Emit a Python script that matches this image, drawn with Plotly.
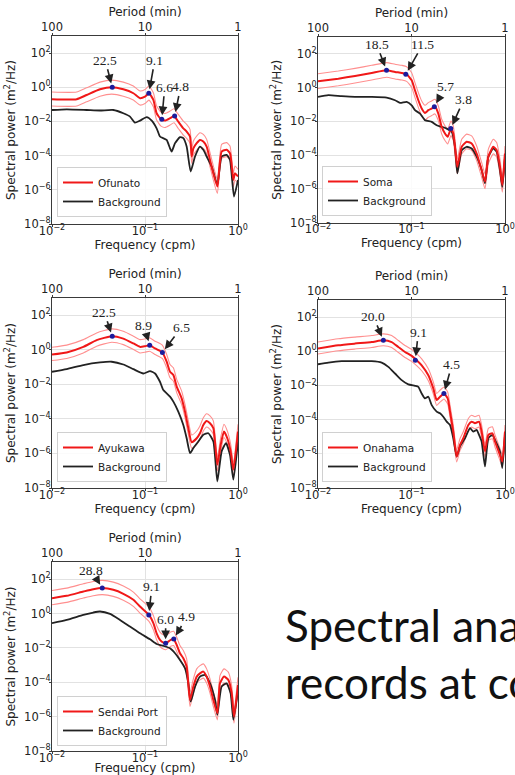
import numpy as np
import plotly.graph_objects as go

# ---------------- data (log10 of frequency in cpm, log10 of power in m^2/Hz) ----------------
stations = ["Ofunato", "Soma", "Ayukawa", "Onahama", "Sendai Port"]

ofunato_log10_freq = [-2.000, -1.735, -1.627, -1.484, -1.358, -1.233, -1.125, -1.054, -1.000, -0.957,
                      -0.910, -0.875, -0.828, -0.785, -0.731, -0.688, -0.642, -0.588, -0.552, -0.516,
                      -0.498, -0.480, -0.444, -0.409, -0.373, -0.337, -0.301, -0.265, -0.222, -0.176,
                      -0.122, -0.086, -0.050, -0.032, 0.000]
ofunato_log10_power = [-0.70, -0.70, -0.45, -0.12, 0.00, -0.12, -0.35, -0.64, -0.55, -0.35,
                       -0.74, -1.52, -1.87, -1.95, -1.81, -1.68, -2.01, -2.40, -2.59, -2.88,
                       -4.05, -3.57, -3.27, -3.08, -3.18, -3.47, -4.25, -5.03, -5.81, -3.76,
                       -3.66, -3.86, -5.42, -5.03, -5.22]
ofunato_bg_log10_freq = [-2.000, -1.842, -1.627, -1.484, -1.341, -1.233, -1.161, -1.108, -1.054, -0.982,
                         -0.928, -0.875, -0.839, -0.803, -0.767, -0.731, -0.713, -0.677, -0.624, -0.588,
                         -0.552, -0.509, -0.462, -0.409, -0.373, -0.337, -0.283, -0.222, -0.176, -0.122,
                         -0.086, -0.043, 0.000]
ofunato_bg_log10_power = [-1.33, -1.29, -1.33, -1.36, -1.33, -1.52, -1.72, -2.07, -1.95, -1.75,
                          -1.95, -2.40, -2.88, -2.98, -3.08, -3.57, -3.76, -3.27, -2.92, -2.98,
                          -3.47, -4.93, -4.05, -3.47, -3.66, -4.05, -4.64, -5.71, -4.05, -3.96,
                          -4.25, -6.39, -5.42]
ofunato_peak_periods = [22.5, 9.1, 6.6, 4.8]
ofunato_peak_log10_power = [0.00, -0.35, -1.87, -1.68]

soma_log10_freq = [-2.000, -1.783, -1.604, -1.426, -1.266, -1.176, -1.105, -1.052, -0.998, -0.963,
                   -0.927, -0.891, -0.856, -0.820, -0.784, -0.749, -0.713, -0.677, -0.642, -0.613,
                   -0.578, -0.553, -0.535, -0.510, -0.463, -0.410, -0.357, -0.303, -0.250, -0.214,
                   -0.178, -0.125, -0.089, -0.054, -0.029, 0.000]
soma_log10_power = [0.37, 0.53, 0.69, 0.87, 1.03, 0.93, 0.87, 0.79, 0.43, -0.16,
                    -0.75, -1.24, -1.50, -1.34, -1.24, -1.14, -1.54, -2.33, -2.72, -2.92,
                    -2.43, -2.72, -3.51, -4.69, -3.51, -3.21, -3.31, -3.91, -4.89, -5.58,
                    -4.10, -3.51, -3.71, -4.69, -5.78, -3.91]
soma_bg_log10_freq = [-2.000, -1.889, -1.747, -1.604, -1.426, -1.266, -1.176, -1.123, -1.052, -0.998,
                      -0.963, -0.909, -0.856, -0.784, -0.731, -0.677, -0.624, -0.570, -0.535, -0.510,
                      -0.463, -0.410, -0.357, -0.303, -0.250, -0.214, -0.178, -0.125, -0.089, -0.054,
                      -0.029, 0.000]
soma_bg_log10_power = [-0.55, -0.45, -0.51, -0.55, -0.55, -0.59, -0.75, -0.91, -0.85, -1.05,
                       -1.34, -1.54, -1.93, -2.03, -2.23, -2.33, -2.43, -2.62, -3.51, -5.09,
                       -3.71, -3.51, -3.61, -4.10, -4.89, -5.68, -4.10, -3.61, -3.81, -4.89,
                       -5.88, -4.10]
soma_peak_periods = [18.5, 11.5, 5.7, 3.8]
soma_peak_log10_power = [1.03, 0.79, -1.14, -2.43]

ayukawa_log10_freq = [-2.000, -1.842, -1.663, -1.520, -1.358, -1.233, -1.125, -1.054, -1.000, -0.950,
                      -0.892, -0.814, -0.767, -0.731, -0.695, -0.659, -0.606, -0.570, -0.534, -0.498,
                      -0.444, -0.409, -0.373, -0.337, -0.301, -0.265, -0.222, -0.186, -0.151, -0.115,
                      -0.079, -0.050, 0.000]
ayukawa_log10_power = [-0.27, -0.15, 0.17, 0.56, 0.79, 0.65, 0.37, 0.17, 0.21, 0.27,
                       0.08, -0.15, -0.69, -1.27, -1.46, -2.13, -2.81, -3.58, -4.54, -5.35,
                       -5.12, -4.83, -4.35, -4.12, -4.25, -4.54, -6.65, -5.50, -4.73, -5.12,
                       -5.88, -6.94, -4.73]
ayukawa_bg_log10_freq = [-2.000, -1.842, -1.663, -1.484, -1.358, -1.233, -1.125, -1.018, -0.946, -0.892,
                         -0.839, -0.803, -0.767, -0.731, -0.695, -0.642, -0.588, -0.552, -0.516, -0.480,
                         -0.427, -0.373, -0.319, -0.265, -0.222, -0.176, -0.129, -0.086, -0.050, 0.000]
ayukawa_bg_log10_power = [-1.27, -1.12, -0.88, -0.73, -0.69, -0.85, -1.12, -1.37, -1.23, -1.37,
                          -1.85, -2.33, -2.52, -2.71, -3.00, -3.58, -4.35, -5.12, -5.98, -5.69,
                          -5.31, -4.92, -4.83, -5.31, -7.62, -5.88, -5.40, -6.08, -7.52, -5.31]
ayukawa_peak_periods = [22.5, 8.9, 6.5]
ayukawa_peak_log10_power = [0.79, 0.27, -0.15]

onahama_log10_freq = [-2.000, -1.783, -1.604, -1.426, -1.301, -1.212, -1.141, -1.070, -0.998, -0.945,
                      -0.891, -0.820, -0.767, -0.731, -0.695, -0.652, -0.613, -0.588, -0.553, -0.517,
                      -0.481, -0.446, -0.392, -0.357, -0.321, -0.278, -0.250, -0.214, -0.178, -0.135,
                      -0.107, -0.054, -0.029, 0.000]
onahama_log10_power = [0.16, 0.35, 0.45, 0.54, 0.64, 0.54, 0.25, -0.04, -0.27, -0.52,
                       -0.82, -1.40, -2.17, -2.85, -2.66, -2.47, -2.76, -3.53, -4.70, -6.16,
                       -5.48, -5.09, -4.31, -4.12, -4.21, -4.12, -4.70, -5.86, -4.89, -4.80,
                       -5.28, -6.06, -6.45, -4.70]
onahama_bg_log10_freq = [-2.000, -1.889, -1.747, -1.604, -1.426, -1.319, -1.248, -1.176, -1.105, -1.034,
                         -0.963, -0.927, -0.891, -0.856, -0.820, -0.784, -0.731, -0.695, -0.660, -0.624,
                         -0.588, -0.553, -0.517, -0.481, -0.428, -0.374, -0.339, -0.303, -0.278, -0.250,
                         -0.214, -0.178, -0.135, -0.107, -0.054, -0.029, 0.000]
onahama_bg_log10_power = [-0.76, -0.66, -0.58, -0.58, -0.58, -0.66, -0.91, -1.30, -1.69, -1.94,
                          -2.02, -2.08, -2.47, -2.76, -2.66, -3.15, -3.53, -3.63, -3.83, -4.12,
                          -4.31, -5.09, -6.16, -5.57, -5.09, -4.50, -4.70, -4.60, -4.89, -5.28,
                          -6.74, -5.09, -4.89, -5.18, -5.86, -6.83, -4.89]
onahama_peak_periods = [20.0, 9.1, 4.5]
onahama_peak_log10_power = [0.64, -0.52, -2.47]

sendai_log10_freq = [-2.000, -1.842, -1.663, -1.556, -1.459, -1.341, -1.233, -1.125, -1.054, -0.957,
                     -0.910, -0.875, -0.839, -0.803, -0.778, -0.749, -0.724, -0.692, -0.659, -0.624,
                     -0.588, -0.552, -0.516, -0.480, -0.444, -0.409, -0.373, -0.337, -0.301, -0.265,
                     -0.222, -0.194, -0.151, -0.104, -0.068, -0.043, 0.000]
sendai_log10_power = [0.89, 1.03, 1.28, 1.42, 1.48, 1.38, 1.15, 0.80, 0.41, -0.08,
                      -0.56, -1.15, -1.53, -1.69, -1.73, -1.63, -1.53, -1.48, -1.83, -2.31,
                      -2.60, -3.09, -5.03, -4.25, -3.67, -3.48, -3.38, -3.67, -4.25, -5.03,
                      -5.81, -4.06, -3.67, -3.86, -4.64, -6.00, -4.16]
sendai_bg_log10_freq = [-2.000, -1.842, -1.663, -1.556, -1.484, -1.376, -1.269, -1.161, -1.054, -0.946,
                        -0.875, -0.803, -0.731, -0.677, -0.624, -0.570, -0.534, -0.509, -0.462, -0.409,
                        -0.355, -0.301, -0.247, -0.222, -0.176, -0.122, -0.079, -0.050, 0.000]
sendai_bg_log10_power = [-0.56, -0.37, -0.08, 0.06, 0.12, -0.02, -0.37, -0.76, -1.15, -1.50,
                         -1.77, -1.88, -2.02, -2.31, -2.70, -3.18, -4.06, -5.13, -4.25, -3.67,
                         -3.57, -4.06, -5.03, -5.90, -4.25, -4.06, -4.64, -6.19, -4.45]
sendai_peak_periods = [28.8, 9.1, 6.0, 4.9]
sendai_peak_log10_power = [1.48, -0.08, -1.73, -1.48]

# 95% confidence band of each spectrum, in decades above / below the estimate
ci_upper_decades = [0.42, 0.45, 0.42, 0.38, 0.45]
ci_lower_decades = [0.40, 0.42, 0.35, 0.32, 0.38]

x_tick_values = [0.01, 0.1, 1]
x_tick_labels = ["10<sup>\u22122</sup>", "10<sup>\u22121</sup>", "10<sup>0</sup>"]
period_tick_labels = ["100", "10", "1"]
y_tick_values = [1e-8, 1e-6, 1e-4, 1e-2, 1, 1e2]
y_tick_labels = ["10<sup>\u22128</sup>", "10<sup>\u22126</sup>", "10<sup>\u22124</sup>",
                 "10<sup>\u22122</sup>", "10<sup>0</sup>", "10<sup>2</sup>"]

panels = [
    (ofunato_log10_freq, ofunato_log10_power, ofunato_bg_log10_freq, ofunato_bg_log10_power,
     ofunato_peak_periods, ofunato_peak_log10_power),
    (soma_log10_freq, soma_log10_power, soma_bg_log10_freq, soma_bg_log10_power,
     soma_peak_periods, soma_peak_log10_power),
    (ayukawa_log10_freq, ayukawa_log10_power, ayukawa_bg_log10_freq, ayukawa_bg_log10_power,
     ayukawa_peak_periods, ayukawa_peak_log10_power),
    (onahama_log10_freq, onahama_log10_power, onahama_bg_log10_freq, onahama_bg_log10_power,
     onahama_peak_periods, onahama_peak_log10_power),
    (sendai_log10_freq, sendai_log10_power, sendai_bg_log10_freq, sendai_bg_log10_power,
     sendai_peak_periods, sendai_peak_log10_power),
]

# ---------------- layout geometry (pixels of the 515x775 page) ----------------
W, H = 515, 775
# (left, right, top, bottom) of each plotting box
boxes = [
    (52, 238, 36, 224),
    (318, 505, 37, 222.5),
    (52, 238, 298, 488),
    (318, 505, 300, 488),
    (52, 238, 562, 751),
]
legend_pos = [(57, 217), (322, 216), (57, 482), (322, 482), (57, 746)]
# arrow tail offsets (text position relative to the marked peak), pixels
label_offsets = [
    [(-7, -27), (6, -33), (3, -32), (6, -29)],
    [(-10, -26), (17, -30), (11, -20), (13, -29)],
    [(-8, -24), (-6, -20), (19, -25)],
    [(-10, -24), (3, -28), (8, -29)],
    [(-11, -18), (3, -28), (0, -24), (13, -22)],
]

sans = "DejaVu Sans"
serif = "Liberation Serif"
ink = "#222222"
fig = go.Figure()
annotations = []
layout = dict(
    width=W, height=H, margin=dict(l=0, r=0, t=0, b=0),
    paper_bgcolor="white", plot_bgcolor="white", template="none",
    font=dict(family=sans, size=11, color=ink),
)

for i, (lf, lp, blf, blp, periods, peak_lp) in enumerate(panels):
    n = "" if i == 0 else str(i + 1)
    xref, yref = "x" + n, "y" + n
    top_id = str(i + 6)
    leg = "legend" + n
    f = np.power(10.0, np.array(lf))
    p = np.power(10.0, np.array(lp))
    bf = np.power(10.0, np.array(blf))
    bp = np.power(10.0, np.array(blp))
    up = np.power(10.0, np.array(lp) + ci_upper_decades[i])
    lo = np.power(10.0, np.array(lp) - ci_lower_decades[i])
    line_shape = dict(shape="spline", smoothing=0.5)
    for band in (up, lo):
        fig.add_trace(go.Scatter(x=f, y=band, mode="lines", xaxis=xref, yaxis=yref,
                                 line=dict(color="#ff8f8f", width=1.1, **line_shape),
                                 showlegend=False, hoverinfo="skip"))
    fig.add_trace(go.Scatter(x=bf, y=bp, mode="lines", xaxis=xref, yaxis=yref, name="Background",
                             line=dict(color=ink, width=1.8, **line_shape), legend=leg, legendrank=2))
    fig.add_trace(go.Scatter(x=f, y=p, mode="lines", xaxis=xref, yaxis=yref, name=stations[i],
                             line=dict(color="#f01818", width=2, **line_shape), legend=leg, legendrank=1))
    peak_f = 1.0 / np.array(periods)
    peak_p = np.power(10.0, np.array(peak_lp))
    # peak markers are drawn against the top (period) axis, which shares the frequency scale
    fig.add_trace(go.Scatter(x=peak_f, y=peak_p, mode="markers", xaxis="x" + top_id, yaxis=yref,
                             marker=dict(color="#1c1c9c", size=5), showlegend=False))
    for j, per in enumerate(periods):
        ax, ay = label_offsets[i][j]
        annotations.append(dict(
            x=float(np.log10(peak_f[j])), y=float(peak_lp[j]), xref=xref, yref=yref,
            text=f"{per:.1f}", showarrow=True, ax=ax, ay=ay,
            arrowhead=2, arrowsize=1.1, arrowwidth=1.6, arrowcolor=ink, standoff=4,
            font=dict(family=serif, size=13.5, color=ink),
        ))

    l, r, t, b = boxes[i]
    xdom = [l / W, r / W]
    ydom = [1 - b / H, 1 - t / H]
    common = dict(showline=True, linecolor="#3a3a3a", linewidth=1.2, zeroline=False,
                  ticks="outside", ticklen=2, tickcolor="#3a3a3a", automargin=False,
                  tickfont=dict(family=sans, size=11.5, color=ink))
    layout["xaxis" + n] = dict(
        domain=xdom, anchor=yref, type="log", range=[-2, 0], mirror=True,
        tickvals=x_tick_values, ticktext=x_tick_labels, showgrid=True, gridcolor="#e2e2e2",
        ticklabelstandoff=-6,
        title=dict(text="Frequency (cpm)", font=dict(family=sans, size=12, color=ink), standoff=2),
        **common)
    layout["yaxis" + n] = dict(
        domain=ydom, anchor=xref, type="log", range=[-8, 3], mirror=True,
        tickvals=y_tick_values, ticktext=y_tick_labels, showgrid=True, gridcolor="#e2e2e2",
        ticklabelstandoff=-4,
        title=dict(text="Spectral power (m<sup>2</sup>/Hz)", font=dict(family=sans, size=12, color=ink),
                   standoff=5),
        **common)
    layout["xaxis" + top_id] = dict(
        domain=xdom, anchor=yref, overlaying=xref, side="top", type="log", range=[-2, 0],
        tickvals=x_tick_values, ticktext=period_tick_labels, showgrid=False,
        ticklabelstandoff=-3,
        title=dict(text="Period (min)", font=dict(family=sans, size=12, color=ink), standoff=1),
        **common)
    lx, lb = legend_pos[i]
    layout[leg] = dict(
        x=lx / W, y=1 - lb / H, xanchor="left", yanchor="bottom",
        bgcolor="rgba(255,255,255,0.85)", bordercolor="#d0d0d0", borderwidth=1,
        font=dict(family=sans, size=10.5, color=ink), tracegroupgap=0, itemwidth=30,
    )

# clipped slide text at bottom right
annotations.append(dict(x=283 / W, y=1 - 624.5 / H, xref="paper", yref="paper", xanchor="left",
                        yanchor="middle", showarrow=False, text="Spectral analysis of tsunami",
                        font=dict(family="Lato", size=44, color="#111111")))
annotations.append(dict(x=283 / W, y=1 - 681.5 / H, xref="paper", yref="paper", xanchor="left",
                        yanchor="middle", showarrow=False, text="records at coastal stations",
                        font=dict(family="Lato", size=44, color="#111111")))

layout["annotations"] = annotations
fig.update_layout(**layout)
fig.write_html("out.html", config={"displayModeBar": False},
               post_script="document.body.style.margin='0';")
